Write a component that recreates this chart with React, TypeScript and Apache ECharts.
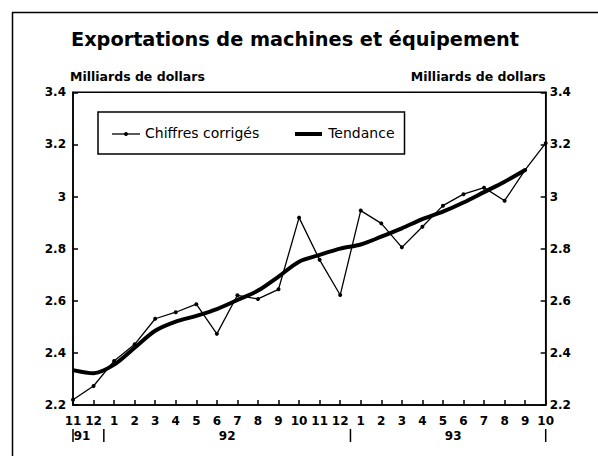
import React, { useEffect, useRef } from "react";
import * as echarts from "echarts";

const months = ["11", "12", "1", "2", "3", "4", "5", "6", "7", "8", "9", "10", "11", "12", "1", "2", "3", "4", "5", "6", "7", "8", "9", "10"];
const chiffresCorriges = [2.22, 2.273, 2.369, 2.433, 2.531, 2.556, 2.587, 2.473, 2.621, 2.607, 2.644, 2.919, 2.757, 2.622, 2.946, 2.897, 2.805, 2.884, 2.965, 3.009, 3.034, 2.984, 3.102, 3.205];
const tendance: (number | null)[] = [2.334, 2.322, 2.355, 2.42, 2.485, 2.52, 2.542, 2.568, 2.603, 2.639, 2.693, 2.75, 2.776, 2.8, 2.816, 2.846, 2.878, 2.913, 2.942, 2.977, 3.017, 3.057, 3.102, null];
const years = ["91", "92", "93"];
const yearStart = [0, 2, 14];
const yearEnd = [1, 13, 23];
const yearSeparators = [0, 1.5, 13.5, 23];

const FONT = "DejaVu Sans, Verdana, sans-serif";

export default function App() {
  const ref = useRef<HTMLDivElement>(null);
  useEffect(() => {
    if (!ref.current) return;
    const chart = echarts.init(ref.current, null, { renderer: "svg" });
    const axisText = { color: "#000", fontFamily: FONT, fontSize: 12, fontWeight: "bold" as const };
    const nameText = { color: "#000", fontFamily: FONT, fontSize: 12.5, fontWeight: "bold" as const };
    const yBase = {
      type: "value" as const,
      min: 2.2,
      max: 3.4,
      interval: 0.2,
      splitLine: { show: false },
      axisLine: { show: true, lineStyle: { color: "#000", width: 1.5 } },
      axisTick: { show: true, inside: true, length: 5, lineStyle: { color: "#000", width: 1.5 } },
      name: "Milliards de dollars",
      nameLocation: "end" as const,
      nameGap: 9,
    };
    chart.setOption({
      animation: false,
      backgroundColor: "#fff",
      title: {
        text: "Exportations de machines et équipement",
        left: 290,
        textAlign: "center",
        top: 25,
        textStyle: { color: "#000", fontFamily: FONT, fontSize: 19.3, fontWeight: "bold" },
      },
      legend: {
        left: 98,
        top: 112,
        padding: [14, 10, 14, 14],
        itemGap: 36,
        itemWidth: 28,
        itemHeight: 14,
        borderColor: "#000",
        borderWidth: 1.5,
        textStyle: { color: "#000", fontFamily: FONT, fontSize: 14 },
        data: [
          { name: "Chiffres corrigés", icon: "none" },
          { name: "Tendance", icon: "none" },
        ],
      },
      grid: {
        left: 73,
        right: 52.3,
        top: 92.3,
        bottom: 51,
        show: true,
        borderColor: "#000",
        borderWidth: 1.5,
        backgroundColor: "transparent",
      },
      xAxis: {
        type: "category",
        data: months,
        boundaryGap: false,
        axisLine: { show: true, lineStyle: { color: "#000", width: 1.5 } },
        axisTick: { show: true, inside: true, length: 5, interval: 0, lineStyle: { color: "#000", width: 1.5 } },
        axisLabel: { ...axisText, margin: 10, interval: 0 },
        splitLine: { show: false },
      },
      yAxis: [
        {
          ...yBase,
          position: "left",
          axisLabel: { ...axisText, margin: 7 },
          nameTextStyle: { ...nameText, align: "left", padding: [0, 0, 0, -3] },
        },
        {
          ...yBase,
          position: "right",
          axisLabel: { ...axisText, margin: 4 },
          nameTextStyle: { ...nameText, align: "right", padding: [0, 0, 0, 0] },
        },
      ],
      series: [
        {
          name: "Chiffres corrigés",
          type: "line",
          data: chiffresCorriges,
          symbol: "circle",
          symbolSize: 4,
          showSymbol: true,
          itemStyle: { color: "#000" },
          lineStyle: { color: "#000", width: 1.3 },
          z: 3,
        },
        {
          name: "Tendance",
          type: "line",
          data: tendance,
          symbol: "none",
          smooth: 0.3,
          itemStyle: { color: "#000" },
          lineStyle: { color: "#000", width: 4 },
          z: 2,
        },
      ],
    });

    const x0 = chart.convertToPixel({ xAxisIndex: 0 }, 0) as number;
    const x1 = chart.convertToPixel({ xAxisIndex: 0 }, 1) as number;
    const xAt = (i: number) => x0 + i * (x1 - x0);
    const yearTexts = years.map((y, k) => ({
      type: "text",
      x: k === 0 ? xAt(0) + 9 : (xAt(yearStart[k]) + xAt(yearEnd[k])) / 2,
      y: 436,
      style: { text: y, fill: "#000", font: `bold 12px ${FONT}`, textAlign: "center", textVerticalAlign: "middle" },
    }));
    const seps = yearSeparators.map((i) => ({
      type: "line",
      shape: { x1: xAt(i), y1: 429, x2: xAt(i), y2: 442 },
      style: { stroke: "#000", lineWidth: 1.5 },
    }));
    const legendIcons = [
      { type: "line", shape: { x1: 112, y1: 134, x2: 140, y2: 134 }, style: { stroke: "#000", lineWidth: 1.3 } },
      { type: "circle", shape: { cx: 126, cy: 134, r: 2 }, style: { fill: "#000" } },
      { type: "line", shape: { x1: 295, y1: 134, x2: 322, y2: 134 }, style: { stroke: "#000", lineWidth: 4 } },
    ];
    chart.setOption({
      graphic: [
        { type: "line", shape: { x1: 12, y1: 12.5, x2: 598, y2: 12.5 }, style: { stroke: "#000", lineWidth: 1.5 } },
        { type: "line", shape: { x1: 12.5, y1: 12, x2: 12.5, y2: 456 }, style: { stroke: "#000", lineWidth: 1.5 } },
        ...yearTexts,
        ...seps,
        ...legendIcons,
      ],
    });
    return () => chart.dispose();
  }, []);
  return <div ref={ref} style={{ width: 598, height: 456, position: "absolute", left: 0, top: 0 }} />;
}
